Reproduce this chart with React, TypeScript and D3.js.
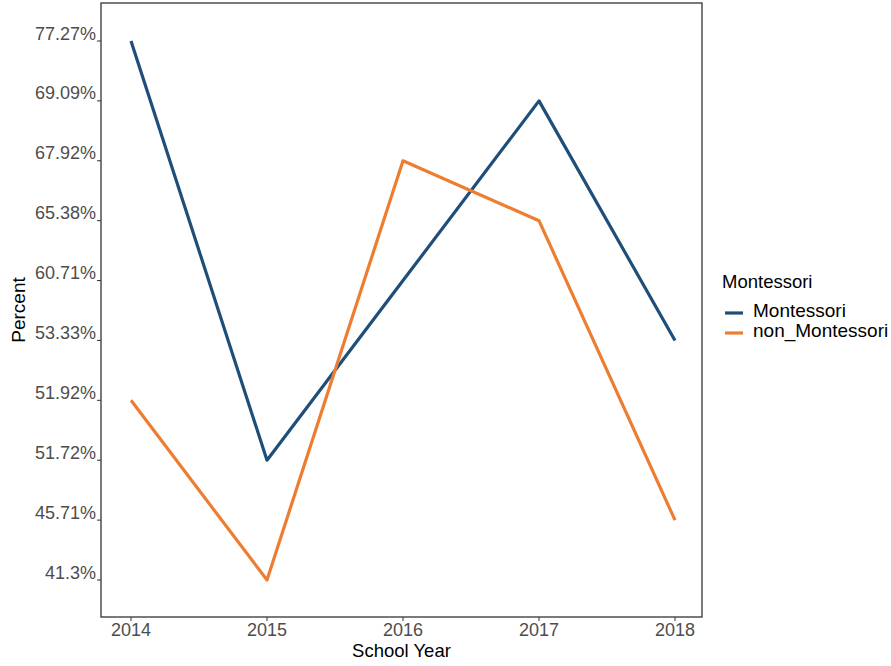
import React from "react";
import * as d3 from "d3";

const years = ["2014", "2015", "2016", "2017", "2018"];
const yLevels = ["41.3%", "45.71%", "51.72%", "51.92%", "53.33%", "60.71%", "65.38%", "67.92%", "69.09%", "77.27%"];
const montessori = ["77.27%", "51.72%", "60.71%", "69.09%", "53.33%"];
const nonMontessori = ["51.92%", "41.3%", "67.92%", "65.38%", "45.71%"];
const seriesNames = ["Montessori", "non_Montessori"];
const seriesColors = ["#1f4e79", "#ed7d31"];

export default function App() {
  const W = 891, H = 666;
  const left = 101, right = 702, top = 3, bottom = 617;
  const x = d3.scalePoint<string>().domain(years).range([131, 675]);
  const y = d3.scalePoint<string>().domain(yLevels).range([580, 41]);
  const line = d3.line<[string, string]>().x((d) => x(d[0])!).y((d) => y(d[1])!);
  const data = [montessori, nonMontessori].map((s) => years.map((yr, i) => [yr, s[i]] as [string, string]));
  const font = "'Liberation Sans', Arial, sans-serif";
  return (
    <svg width={W} height={H} style={{ position: "absolute", left: 0, top: 0, fontFamily: font }}>
      <rect x={0} y={0} width={W} height={H} fill="white" />
      {data.map((d, i) => (
        <path key={i} d={line(d)!} fill="none" stroke={seriesColors[i]} strokeWidth={3.2} strokeLinejoin="round" />
      ))}
      <rect x={left} y={top} width={right - left} height={bottom - top} fill="none" stroke="#333" strokeWidth={1.3} />
      {yLevels.map((l) => (
        <g key={l}>
          <line x1={left - 4} x2={left} y1={y(l)} y2={y(l)} stroke="#333" />
          <text x={left - 5} y={y(l)! - 1.5} textAnchor="end" fontSize={18} fill="#4d4d4d">{l}</text>
        </g>
      ))}
      {years.map((yr) => (
        <g key={yr}>
          <line x1={x(yr)} x2={x(yr)} y1={bottom} y2={bottom + 4} stroke="#333" />
          <text x={x(yr)} y={bottom + 19} textAnchor="middle" fontSize={18} fill="#4d4d4d">{yr}</text>
        </g>
      ))}
      <text x={(left + right) / 2} y={657} textAnchor="middle" fontSize={18.5} fill="#000">School Year</text>
      <text transform={`translate(25, ${(top + bottom) / 2}) rotate(-90)`} textAnchor="middle" fontSize={19} fill="#000">Percent</text>
      <text x={722} y={288} fontSize={18.5} fill="#000">Montessori</text>
      {seriesNames.map((n, i) => (
        <g key={n}>
          <line x1={725} x2={743} y1={313 + i * 20} y2={313 + i * 20} stroke={seriesColors[i]} strokeWidth={3.2} />
          <text x={753} y={317 + i * 20} fontSize={19} fill="#000">{n}</text>
        </g>
      ))}
    </svg>
  );
}
